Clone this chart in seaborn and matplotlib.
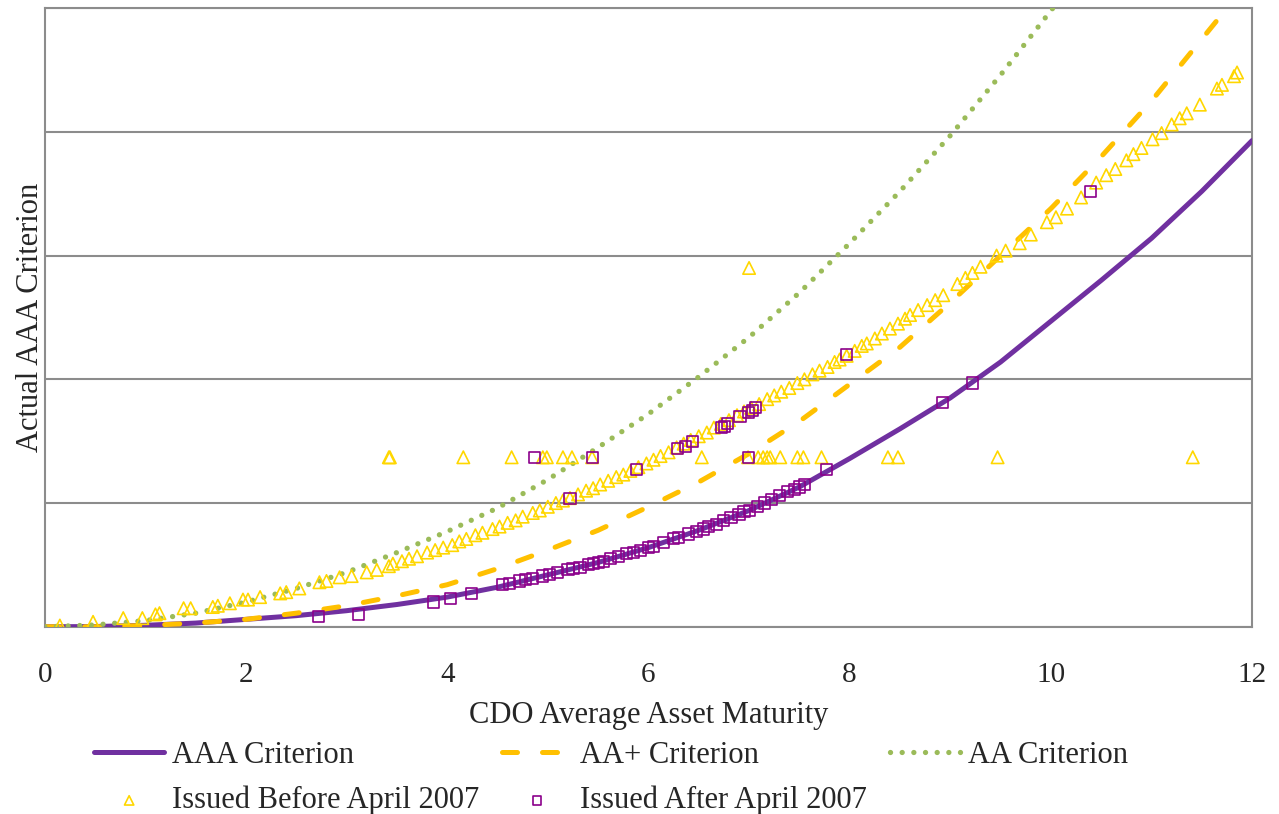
import matplotlib
matplotlib.use('Agg')
import numpy as np
import pandas as pd
import seaborn as sns
import matplotlib.pyplot as plt

# criterion curves
curve_x = [0, 0.5, 1, 1.5, 2, 2.5, 3, 3.5, 4, 4.5, 5, 5.5, 6, 6.5, 7, 7.5, 8,
           8.5, 9, 9.5, 10, 10.5, 11, 11.5, 12]
aaa_y = [0, 0.002, 0.012, 0.03, 0.06, 0.09, 0.13, 0.18, 0.24, 0.32, 0.42, 0.52,
         0.64, 0.78, 0.94, 1.13, 1.36, 1.60, 1.85, 2.14, 2.47, 2.80, 3.14, 3.52, 3.93]
aa_plus_y = [0, 0, 0.01, 0.03, 0.06, 0.11, 0.17, 0.25, 0.34, 0.47, 0.62, 0.78,
             0.97, 1.17, 1.40, 1.66, 1.96, 2.26, 2.62, 3.00, 3.38, 3.80, 4.25, 4.75, 5.25]
aa_x = [0, 0.5, 1, 1.5, 2, 2.5, 3, 3.5, 4, 4.5, 5, 5.5, 6, 6.5, 7, 7.5, 8,
        8.5, 9, 9.5, 10, 10.5]
aa_y = [0, 0.015, 0.05, 0.11, 0.20, 0.31, 0.44, 0.60, 0.77, 0.96, 1.19, 1.45,
        1.72, 2.02, 2.34, 2.70, 3.10, 3.52, 3.97, 4.46, 4.98, 5.5]

# deals issued before April 2007 (triangles)
before_x = [0.15, 0.48, 0.78, 0.97, 1.10, 1.14, 1.38, 1.45, 1.67, 1.72, 1.84, 1.97,
            2.02, 2.14, 2.34, 2.40, 2.53, 2.73, 2.80, 2.93, 3.05, 3.20, 3.30, 3.42,
            3.46, 3.55, 3.62, 3.70, 3.80, 3.88, 3.96, 4.05, 4.12, 4.19, 4.28, 4.35,
            4.45, 4.52, 4.60, 4.68, 4.75, 4.85, 4.92, 5.00, 5.08, 5.15, 5.22, 5.30,
            5.38, 5.45, 5.52, 5.60, 5.68, 5.75, 5.82, 5.90, 5.98, 6.05, 6.12, 6.20,
            6.28, 6.35, 6.42, 6.50, 6.58, 6.65, 6.72, 6.80, 6.88, 6.95, 7.02, 7.10,
            7.18, 7.25, 7.32, 7.40, 7.48, 7.55, 7.63, 7.70, 7.78, 7.85, 7.90, 7.97,
            8.05, 8.12, 8.17, 8.25, 8.32, 8.40, 8.48, 8.55, 8.60, 8.68, 8.77, 8.85,
            8.93, 9.07, 9.15, 9.22, 9.30, 9.46, 9.55, 9.69, 9.80, 9.96, 10.05, 10.16,
            10.30, 10.45, 10.55, 10.64, 10.75, 10.82, 10.90, 11.01, 11.10, 11.20, 11.28,
            11.35, 11.48, 11.65, 11.70, 11.82, 11.85,
            3.42, 3.43, 4.16, 4.64, 4.95, 4.99, 5.15, 5.24, 5.44, 6.53, 6.99, 7.09,
            7.14, 7.18, 7.21, 7.31, 7.48, 7.54, 7.72, 8.38, 8.48, 9.47, 11.41, 7.00]
before_y = [0.01, 0.04, 0.07, 0.07, 0.10, 0.11, 0.15, 0.15, 0.16, 0.17, 0.19, 0.22,
            0.22, 0.24, 0.27, 0.28, 0.31, 0.36, 0.37, 0.40, 0.41, 0.44, 0.46, 0.49,
            0.51, 0.53, 0.55, 0.57, 0.60, 0.62, 0.64, 0.66, 0.69, 0.71, 0.74, 0.76,
            0.79, 0.81, 0.84, 0.86, 0.89, 0.92, 0.94, 0.97, 1.00, 1.02, 1.04, 1.07,
            1.10, 1.12, 1.15, 1.18, 1.21, 1.23, 1.26, 1.29, 1.32, 1.35, 1.38, 1.41,
            1.45, 1.48, 1.51, 1.54, 1.57, 1.61, 1.64, 1.67, 1.71, 1.74, 1.77, 1.80,
            1.84, 1.87, 1.90, 1.93, 1.97, 2.00, 2.04, 2.07, 2.10, 2.14, 2.16, 2.19,
            2.23, 2.27, 2.29, 2.33, 2.37, 2.41, 2.45, 2.49, 2.52, 2.56, 2.60, 2.64,
            2.68, 2.77, 2.82, 2.86, 2.91, 3.00, 3.04, 3.10, 3.17, 3.27, 3.31, 3.38,
            3.47, 3.59, 3.65, 3.70, 3.77, 3.82, 3.87, 3.94, 3.99, 4.06, 4.11,
            4.15, 4.22, 4.35, 4.38, 4.45, 4.48,
            1.37, 1.37, 1.37, 1.37, 1.37, 1.37, 1.37, 1.37, 1.37, 1.37, 1.37, 1.37,
            1.37, 1.37, 1.37, 1.37, 1.37, 1.37, 1.37, 1.37, 1.37, 1.37, 1.37, 2.90]

# deals issued after April 2007 (squares)
after_x = [2.72, 3.12, 3.86, 4.03, 4.24, 4.55, 4.62, 4.72, 4.78, 4.85, 4.95, 5.02,
           5.10, 5.20, 5.25, 5.32, 5.40, 5.45, 5.50, 5.55, 5.62, 5.70, 5.78, 5.85,
           5.92, 6.00, 6.05, 6.15, 6.25, 6.30, 6.40, 6.48, 6.55, 6.60, 6.68, 6.75,
           6.82, 6.90, 6.95, 7.00, 7.08, 7.15, 7.22, 7.30, 7.38, 7.45, 7.50, 7.55,
           7.77, 8.92, 9.22,
           5.22, 5.88, 6.29, 6.37, 6.44, 6.73, 6.76, 6.79, 6.91, 6.99, 7.03, 7.06,
           7.97, 10.39,
           4.87, 5.44, 6.99]
after_y = [0.08, 0.10, 0.20, 0.23, 0.27, 0.34, 0.35, 0.37, 0.38, 0.39, 0.41, 0.42,
           0.44, 0.46, 0.47, 0.48, 0.50, 0.51, 0.52, 0.53, 0.55, 0.57, 0.59, 0.60,
           0.62, 0.64, 0.65, 0.68, 0.71, 0.72, 0.75, 0.77, 0.79, 0.81, 0.83, 0.86,
           0.88, 0.91, 0.93, 0.94, 0.97, 1.00, 1.03, 1.06, 1.09, 1.11, 1.13, 1.15,
           1.27, 1.81, 1.97,
           1.04, 1.27, 1.44, 1.46, 1.50, 1.61, 1.62, 1.64, 1.70, 1.73, 1.75, 1.77,
           2.20, 3.52,
           1.37, 1.37, 1.37]

sns.set_style('white')
plt.rcParams['font.family'] = ['Liberation Serif', 'DejaVu Serif']

purple = '#7030A0'
orange = '#FFC000'
green = '#9BBB59'
gold = '#FFD700'
magenta = '#8B008B'
grey = '#8C8C8C'

fig, ax = plt.subplots(figsize = (12.79, 8.14), dpi = 100)
fig.subplots_adjust(left = 0.035, right = 0.979, top = 0.990, bottom = 0.230)

sns.lineplot(x = curve_x, y = aaa_y, ax = ax, color = purple, linewidth = 3.6,
             label = 'AAA Criterion', zorder = 3)
sns.lineplot(x = curve_x, y = aa_plus_y, ax = ax, color = orange, linewidth = 3.6,
             linestyle = (0, (3, 5)), dash_capstyle = 'round', label = 'AA+ Criterion', zorder = 3)
sns.lineplot(x = aa_x, y = aa_y, ax = ax, color = green, linewidth = 3.8,
             linestyle = (0, (0.01, 2.2)), dash_capstyle = 'round', label = 'AA Criterion', zorder = 3)

sns.scatterplot(x = before_x, y = before_y, ax = ax, marker = '^', s = 80, color = gold,
                linewidth = 1.2, label = 'Issued Before April 2007', zorder = 4)
sns.scatterplot(x = after_x, y = after_y, ax = ax, marker = 's', s = 64, color = magenta,
                linewidth = 1.2, label = 'Issued After April 2007', zorder = 5)
for coll, c in zip(ax.collections[-2:], [gold, magenta]):
    coll.set_facecolor('none')
    coll.set_edgecolor(c)

ax.set_xlim(0, 12)
ax.set_ylim(0, 5)
ax.set_xticks(range(0, 13, 2))
ax.set_yticks(range(0, 6))
ax.set_yticklabels([])
ax.tick_params(axis = 'y', length = 0)
ax.tick_params(axis = 'x', direction = 'out', length = 6, width = 1.5, color = grey,
               labelsize = 21, pad = 19)
ax.yaxis.grid(True, color = grey, linewidth = 1.5)
for s in ax.spines.values():
    s.set_color(grey)
    s.set_linewidth(1.5)
ax.set_xlabel('CDO Average Asset Maturity', fontsize = 22, labelpad = 10)
ax.set_ylabel('Actual AAA Criterion', fontsize = 22, labelpad = -4)

handles, labels = ax.get_legend_handles_labels()
ax.get_legend().remove()
order = [0, 3, 1, 4, 2]
fig.legend([handles[i] for i in order], [labels[i] for i in order],
           loc = 'upper left', bbox_to_anchor = (94 / 1279, 1 - 741 / 814), ncol = 3,
           frameon = False, fontsize = 22, handlelength = 2.3, columnspacing = 0.75,
           handletextpad = 0.25, labelspacing = 0.52, scatterpoints = 1,
           markerscale = 0.75, borderpad = 0, borderaxespad = 0)

fig.savefig('out.png', dpi = 100)
